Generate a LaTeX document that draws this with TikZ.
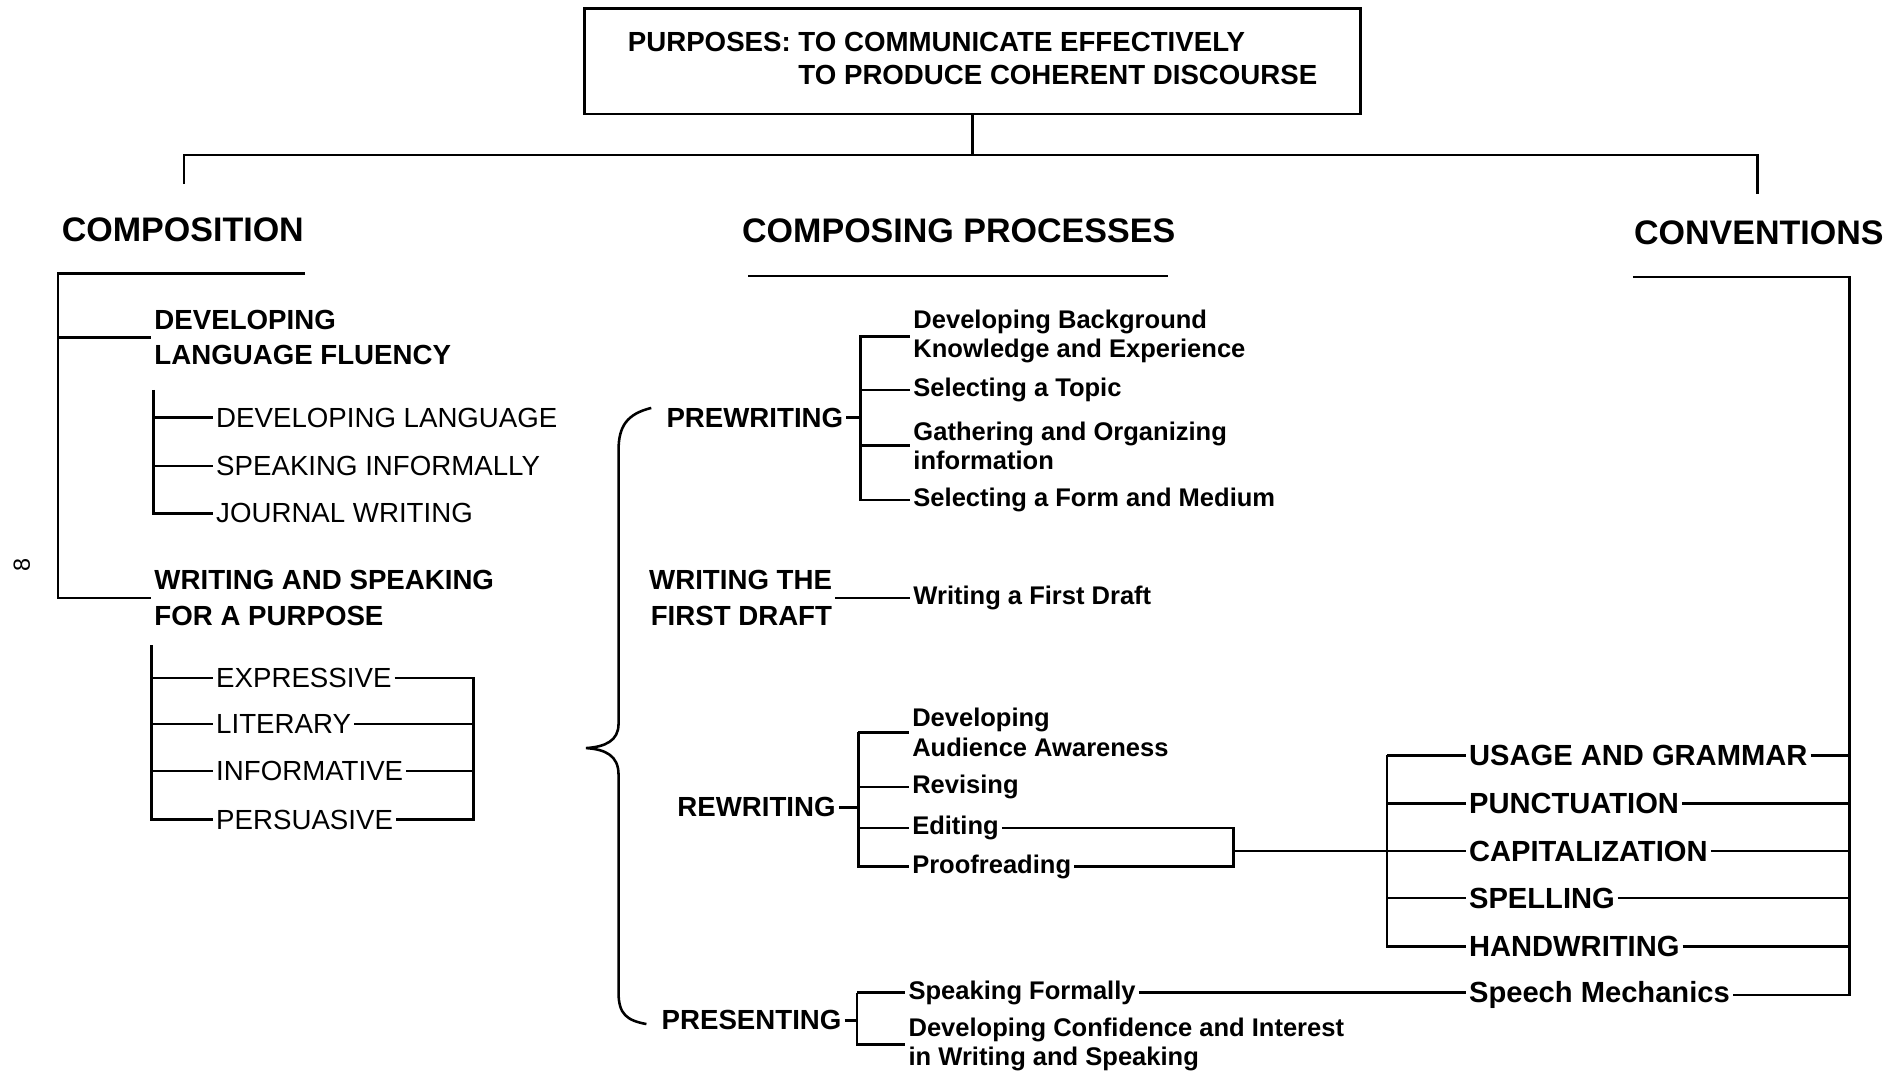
\documentclass[tikz,border=0pt]{standalone}
\usepackage{fontspec}
\setmainfont{Liberation Sans}

\begin{document}
\begin{tikzpicture}[x=0.2mm, y=-0.2mm, line width=1.2pt]
	\tikzstyle{headtext}  = [inner sep=0pt, font=\bfseries\fontsize{16}{19}\selectfont]
	\tikzstyle{grouptext} = [anchor=west, align=left, inner sep=0pt, outer sep=1.5pt, font=\bfseries\fontsize{13}{16.5}\selectfont]
	\tikzstyle{modetext}  = [anchor=west, inner sep=0pt, outer sep=1.5pt, font=\fontsize{13}{16}\selectfont]
	\tikzstyle{stagetext} = [anchor=west, align=left, inner sep=0pt, outer sep=1.5pt, font=\bfseries\fontsize{13}{17}\selectfont]
	\tikzstyle{leaftext}  = [anchor=west, align=left, inner sep=0pt, outer sep=1.5pt, font=\bfseries\fontsize{12}{13.7}\selectfont]
	\tikzstyle{mechtext}  = [anchor=west, inner sep=0pt, outer sep=1.5pt, font=\bfseries\fontsize{13.7}{16}\selectfont]

	\useasboundingbox (0,0) rectangle (1568,888);

%	\draw[step=100, gray!50] (0,0) grid (1568,888);

	% purposes box
	\node[draw, minimum width=128.2mm, minimum height=17.4mm, font=\bfseries\fontsize{13}{15.4}\selectfont] (purpose) at (803.5,50.5)
		{\begin{tabular}{@{}l@{\ }l@{}}PURPOSES: & TO COMMUNICATE EFFECTIVELY\\ & TO PRODUCE COHERENT DISCOURSE\end{tabular}};

	\node[headtext] (comp) at (151,190) {COMPOSITION};
	\node[headtext] (proc) at (792,191) {COMPOSING PROCESSES};
	\node[headtext] (conv) at (1453,192) {CONVENTIONS};
	\node[rotate=90, inner sep=0pt, font=\fontsize{11}{13}\selectfont] (pageno) at (18,467) {8};

	\coordinate (hub) at (803.5,128);
	\coordinate (compDrop) at (152,152);
	\coordinate (convDrop) at (1452,160);
	\coordinate (compUL) at (252,226);
	\coordinate (compBar) at (48,226);
	\coordinate (procUL) at (618,228);
	\coordinate (procUR) at (965,228);
	\coordinate (convUL) at (1349,229);
	\coordinate (convBar) at (1528,229);

	\draw (purpose.south) -- (hub);
	\draw (compDrop) -- (compDrop |- hub) -- (convDrop |- hub) -- (convDrop);
	\draw (procUL) -- (procUR);

	% composition
	\node[grouptext] (dlf) at (125,279) {DEVELOPING\\LANGUAGE FLUENCY};
	\node[grouptext] (wsp) at (125,494) {WRITING AND SPEAKING\\FOR A PURPOSE};
	\foreach \name/\y/\lbl in {devlang/345/DEVELOPING LANGUAGE, spkinf/385/SPEAKING INFORMALLY, journal/424/JOURNAL WRITING, expr/560/EXPRESSIVE, lit/598/LITERARY, info/637/INFORMATIVE, pers/677/PERSUASIVE}
		\node[modetext] (\name) at (176,\y) {\lbl};

	\draw (compUL) -- (compBar) |- (wsp.west);
	\draw (compBar |- dlf.west) -- (dlf.west);
	\coordinate (dlfBar) at (127,322);
	\draw (dlfBar) |- (journal.west);
	\foreach \name in {devlang, spkinf}
		\draw (dlfBar |- \name.west) -- (\name.west);
	\coordinate (wspBar) at (125,533);
	\coordinate (modeBar) at (391,560);
	\draw (wspBar) |- (pers.west);
	\foreach \name in {expr, lit, info}
		\draw (wspBar |- \name.west) -- (\name.west);
	\draw (expr.east) -- (expr.east -| modeBar) |- (pers.east);
	\foreach \name in {lit, info}
		\draw (\name.east) -- (\name.east -| modeBar);

	% composing processes
	\coordinate (braceTop) at (538,337);
	\coordinate (braceTip) at (484,618);
	\coordinate (braceBot) at (534,846);
	\draw (braceTop) .. controls (518,342) and (511,352) .. (511,372) -- (511,598)
		.. controls (511,612) and (500,617) .. (braceTip)
		.. controls (500,619) and (511,624) .. (511,640) -- (511,820)
		.. controls (511,838) and (518,843) .. (braceBot);

	\node[stagetext] (prew) at (548,345) {PREWRITING};
	\node[stagetext, anchor=east, align=right] (draft) at (690,494) {WRITING THE\\FIRST DRAFT};
	\node[stagetext] (rew) at (557,667) {REWRITING};
	\node[stagetext] (pres) at (544,843) {PRESENTING};

	\node[leaftext] (bgk) at (752,278) {Developing Background\\Knowledge and Experience};
	\node[leaftext] (gather) at (752,368) {Gathering and Organizing\\information};
	\node[leaftext] (aud) at (751,605) {Developing\\Audience Awareness};
	\node[leaftext] (confid) at (748,863) {Developing Confidence and Interest\\in Writing and Speaking};
	\foreach \name/\x/\y/\lbl in {topic/752/322/Selecting a Topic, form/752/413/Selecting a Form and Medium, firstd/752/494/Writing a First Draft, revise/751/650/Revising, edit/751/684/Editing, proof/751/716/Proofreading, formal/748/820/Speaking Formally}
		\node[leaftext] (\name) at (\x,\y) {\lbl};

	\coordinate (prewBar) at (711,277);
	\draw (prew.east) -- (prew.east -| prewBar);
	\draw (prewBar) |- (form.west);
	\foreach \name in {bgk, topic, gather}
		\draw (prewBar |- \name.west) -- (\name.west);

	\draw (draft.east) -- (draft.east -| firstd.west);

	\coordinate (rewBar) at (709,605);
	\draw (rew.east) -- (rew.east -| rewBar);
	\draw (rewBar) |- (proof.west);
	\foreach \name in {aud, revise, edit}
		\draw (rewBar |- \name.west) -- (\name.west);

	\coordinate (presBar) at (708,820);
	\draw (pres.east) -- (pres.east -| presBar);
	\draw (presBar) |- (confid.west);
	\draw (presBar |- formal.west) -- (formal.west);

	% conventions
	\foreach \name/\y/\lbl in {usage/624/USAGE AND GRAMMAR, punct/664/PUNCTUATION, cap/703/CAPITALIZATION, spell/742/SPELLING, hand/782/HANDWRITING, speech/822/Speech Mechanics}
		\node[mechtext] (\name) at (1211,\y) {\lbl};

	\coordinate (mergeBar) at (1019,684);
	\draw (edit.east) -- (edit.east -| mergeBar) |- (proof.east);
	\draw (mergeBar |- cap.west) -- (cap.west);
	\coordinate (mechBar) at (1146,624);
	\draw (mechBar) |- (hand.west);
	\foreach \name in {usage, punct, spell}
		\draw (mechBar |- \name.west) -- (\name.west);
	\draw (formal.east) -- (formal.east -| speech.west);

	\draw (convUL) -- (convBar) |- (speech.east);
	\foreach \name in {usage, punct, cap, spell, hand}
		\draw (\name.east) -- (\name.east -| convBar);

\end{tikzpicture}
\end{document}
